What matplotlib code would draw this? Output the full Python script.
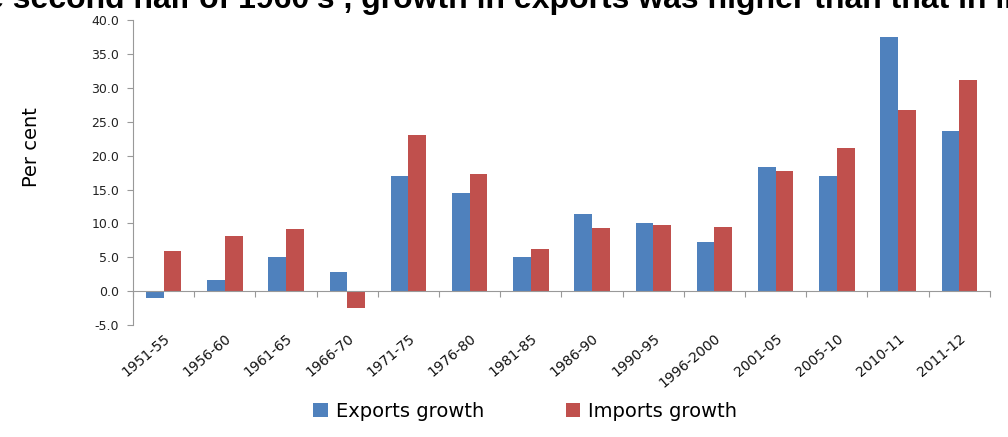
import numpy as np
import matplotlib
matplotlib.use("Agg")
import matplotlib.pyplot as plt

periods = ["1951-55", "1956-60", "1961-65", "1966-70", "1971-75", "1976-80", "1981-85",
           "1986-90", "1990-95", "1996-2000", "2001-05", "2005-10", "2010-11", "2011-12"]
exports_growth = [-1.0, 1.6, 5.0, 2.8, 17.0, 14.5, 5.1, 11.4, 10.1, 7.2, 18.4, 17.0, 37.5, 23.7]
imports_growth = [6.0, 8.1, 9.2, -2.4, 23.1, 17.3, 6.3, 9.3, 9.8, 9.5, 17.7, 21.1, 26.8, 31.2]
y_ticks = [-5.0, 0.0, 5.0, 10.0, 15.0, 20.0, 25.0, 30.0, 35.0, 40.0]

fig = plt.figure(figsize=(10.08, 4.37), dpi=100)
ax = fig.add_axes([0.132, 0.256, 0.85, 0.698])

x = np.arange(len(periods))
w = 0.29
ax.bar(x - w / 2, exports_growth, w, color="#4F81BD", label="Exports growth")
ax.bar(x + w / 2, imports_growth, w, color="#C0504D", label="Imports growth")

ax.set_xlim(-0.5, len(periods) - 0.5)
ax.set_ylim(-5, 40)
ax.set_yticks(y_ticks)
ax.set_yticklabels([f"{v:.1f}" for v in y_ticks], fontsize=9, family="DejaVu Sans",
                   color="#222222")
ax.tick_params(axis="y", length=4, color="#999999", pad=6)

# horizontal axis crosses at zero, labels stay low
for s in ["top", "right"]:
    ax.spines[s].set_visible(False)
ax.spines["left"].set_color("#999999")
ax.spines["bottom"].set_color("#999999")
ax.spines["bottom"].set_position(("data", 0))
ax.set_xticks(np.arange(len(periods) + 1) - 0.5)
ax.set_xticklabels([])
ax.tick_params(axis="x", which="major", length=4, color="#999999")
ax.set_xticks(x, minor=True)
ax.set_xticklabels(periods, minor=True, rotation=40, ha="right", rotation_mode="anchor",
                   fontsize=10, family="DejaVu Sans Condensed", color="#111111")
ax.tick_params(axis="x", which="minor", length=0, pad=29)

ax.set_ylabel("Per cent", fontsize=14, family="DejaVu Sans Condensed")
ax.yaxis.set_label_coords(-0.108, 0.584)

fig.legend(loc="center", bbox_to_anchor=(0.521, 0.058), ncol=2, frameon=False,
           fontsize=14, handlelength=0.75, handleheight=0.75, columnspacing=4.2,
           handletextpad=0.4)

# title is cropped at the top edge in the source image
fig.text(-0.0136, 0.981, "e second half of 1960's , growth in exports was higher than that in imports",
         fontsize=23, fontweight="bold", family="Liberation Sans", va="baseline", ha="left")

fig.savefig("out.png", dpi=100)
